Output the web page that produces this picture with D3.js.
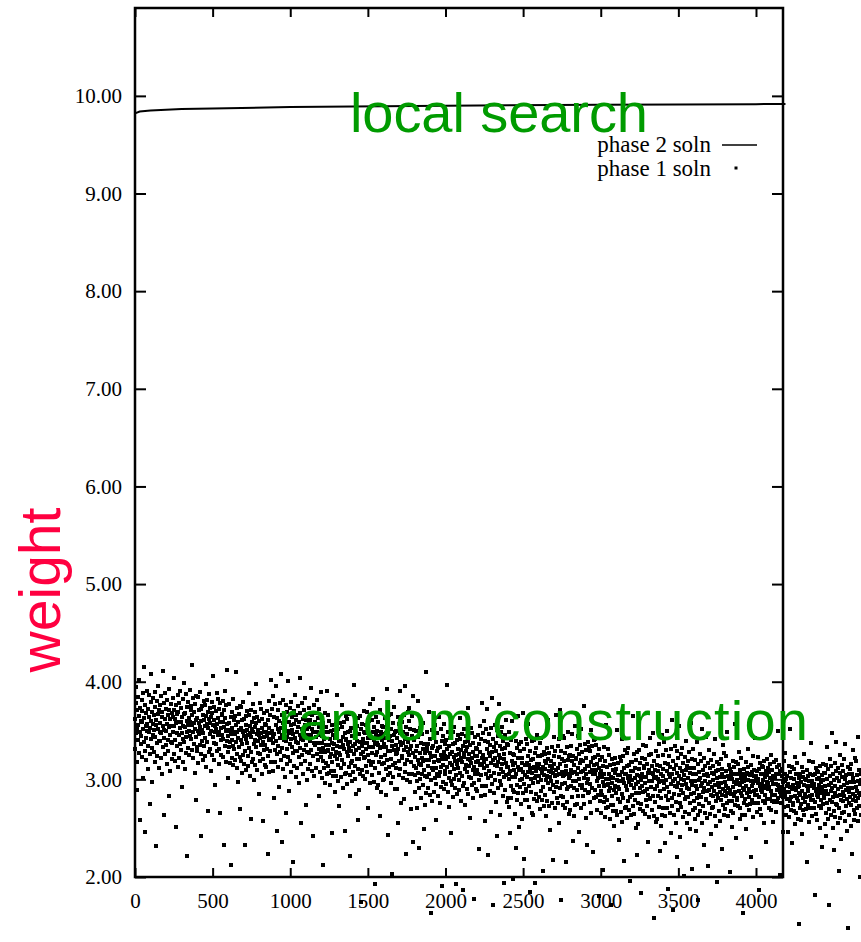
<!DOCTYPE html>
<html>
<head>
<meta charset="utf-8">
<script src="https://cdn.jsdelivr.net/npm/d3@7/dist/d3.min.js"></script>
<style>
  body { margin: 0; background: #fff; }
  svg { display: block; }
</style>
</head>
<body>
<div id="chart"></div>
<script>
// phase 1 (random construction) weights in hundredths,
// one value every 2 iterations, one array per 600 iterations
const sampleStep = 2;
const phase1From0 = [
  362,331,378,347,395,352,318,371,289,356,340,384,327,365,402,349,258,373,336,360,
  344,381,323,359,370,301,352,388,338,415,363,329,376,246,355,342,368,320,391,350,
  357,334,372,311,364,349,386,275,353,326,379,341,360,408,332,369,297,357,383,345,
  328,366,351,389,318,374,343,361,232,356,337,380,324,367,352,396,339,312,371,348,
  376,339,358,322,385,347,364,305,369,333,355,411,342,378,264,351,326,362,388,335,
  350,372,316,357,381,340,366,329,393,354,283,371,345,309,362,338,377,355,321,368,
  337,364,383,349,326,371,355,404,340,362,319,376,251,358,334,367,347,386,313,359,
  369,345,322,378,353,336,391,359,330,373,347,292,364,341,382,355,318,367,399,338,
  354,311,368,343,387,327,360,348,374,221,356,332,379,350,363,325,392,344,359,371,
  341,375,356,330,366,417,348,322,383,358,336,369,307,352,377,343,361,279,385,333,
  363,329,350,384,317,371,346,358,335,389,354,326,372,242,360,339,375,351,320,366,
  347,380,361,334,355,324,376,342,398,365,313,357,338,381,353,268,369,328,362,387,
  331,358,373,346,309,364,350,379,325,368,343,406,356,320,374,337,361,349,294,355,
  370,336,352,388,329,357,382,345,363,316,372,348,331,266,359,378,340,353,325,367,
  345,366,323,359,380,341,354,233,371,334,363,390,350,318,376,339,357,412,328,351
];
const phase1From600 = [
  344,301,358,333,377,317,350,338,364,212,346,322,369,340,353,315,382,334,349,361,
  331,365,346,320,356,410,338,312,373,348,326,359,297,342,367,333,351,270,375,323,
  353,319,340,374,307,361,336,348,325,379,344,316,362,233,350,329,365,341,310,356,
  337,370,351,324,345,314,366,332,388,355,303,347,328,371,343,259,359,318,352,377,
  321,348,363,336,299,354,340,369,315,358,333,398,346,310,364,327,351,339,285,345,
  360,326,342,378,319,347,372,335,353,306,362,338,321,257,349,368,330,343,315,357,
  335,356,313,349,370,331,344,224,361,324,353,380,340,308,366,329,347,402,318,341,
  350,318,372,337,385,343,309,364,281,346,330,377,318,356,396,339,247,363,326,352,
  334,371,313,349,360,292,342,378,328,408,353,320,366,236,345,332,358,311,381,340,
  347,324,362,302,354,339,376,266,343,316,369,331,350,401,323,359,288,347,373,336,
  319,356,341,379,308,364,333,351,215,346,327,370,314,357,342,386,329,302,361,338,
  366,329,348,312,375,337,354,296,359,323,345,404,332,368,255,341,316,352,378,325,
  340,362,306,347,371,330,356,319,383,344,274,361,335,299,352,328,367,345,311,358,
  327,354,373,339,316,361,345,394,330,352,309,366,242,348,324,357,337,376,303,349,
  359,335,312,368,343,326,381,349,320,363,337,283,354,331,372,345,308,357,389,328
];
const phase1From1200 = [
  323,344,301,337,358,319,332,212,349,312,341,368,328,296,354,317,335,391,306,329,
  348,314,330,366,307,335,360,323,341,294,350,326,309,245,337,356,318,331,303,345,
  309,336,351,324,287,342,328,357,303,346,321,386,334,298,352,315,339,327,273,333,
  325,358,339,312,333,302,354,320,376,343,291,335,316,359,331,247,347,306,340,365,
  341,307,328,362,295,349,324,336,313,367,332,304,350,221,338,317,353,329,298,344,
  319,353,334,308,344,397,326,300,361,336,314,347,285,330,355,321,339,258,363,311,
  332,289,346,321,365,305,338,326,352,174,334,310,357,328,341,303,370,322,337,349,
  347,323,300,356,331,314,369,337,308,351,325,271,342,319,360,333,296,345,377,316,
  315,342,361,327,304,349,333,382,318,340,297,354,193,336,312,345,325,364,291,337,
  328,350,294,335,359,318,344,307,371,332,262,349,323,287,340,316,355,333,299,346,
  354,317,336,300,363,325,342,284,347,311,333,393,320,356,243,329,304,340,366,313,
  307,344,329,367,296,352,321,339,203,334,315,358,302,345,330,374,317,290,349,326,
  335,312,350,290,342,327,364,255,331,304,357,319,338,390,311,347,276,335,361,324,
  322,359,301,337,348,280,330,366,316,396,341,308,354,224,333,320,346,299,369,328,
  338,306,360,325,373,331,297,352,270,334,318,365,306,344,385,327,236,351,314,340
];
const phase1From1800 = [
  341,304,323,287,350,312,329,271,334,298,320,380,307,343,230,316,291,327,353,300,
  315,337,281,322,346,305,331,294,358,319,249,336,310,274,327,303,410,320,286,333,
  302,329,348,314,291,336,320,369,305,327,284,341,163,323,299,332,312,351,278,324,
  334,310,287,343,318,301,356,324,295,338,312,258,329,306,347,320,283,332,364,303,
  319,276,333,308,352,292,325,313,339,191,321,297,344,315,328,290,357,309,324,336,
  306,340,321,295,331,397,313,287,348,323,301,334,272,317,342,308,326,245,350,298,
  328,294,315,349,282,336,311,323,300,354,319,291,337,193,325,304,340,316,285,331,
  312,345,326,299,320,289,341,307,363,330,278,322,303,346,318,187,334,293,327,352,
  296,323,338,311,274,329,315,344,290,333,308,373,321,285,339,302,326,314,260,320,
  335,301,317,353,294,322,347,310,328,281,337,313,296,177,324,343,305,318,290,332,
  310,331,288,324,345,306,319,229,336,299,328,355,315,283,341,304,322,378,293,316,
  325,293,347,312,360,318,284,339,257,321,305,352,293,331,372,314,223,338,301,327,
  309,346,288,324,335,267,317,353,303,383,328,295,341,171,320,307,333,286,356,315,
  322,299,337,277,329,314,351,242,318,291,344,306,325,377,298,334,263,322,348,311,
  294,331,316,354,283,339,308,326,194,321,302,345,289,332,317,361,304,277,336,313
];
const phase1From2400 = [
  313,281,335,300,348,306,272,327,245,309,293,340,281,319,360,302,198,326,289,315,
  310,287,325,265,317,302,339,230,306,279,332,294,313,365,286,322,251,310,336,299,
  329,292,311,275,338,300,317,259,322,286,308,368,295,331,218,304,279,315,341,288,
  290,317,336,302,279,324,308,357,293,315,272,329,185,311,287,320,300,339,266,312,
  307,264,321,296,340,280,313,301,327,194,309,285,332,303,316,278,345,297,312,324,
  316,282,303,337,270,324,299,311,288,342,307,279,325,206,313,292,328,304,273,319,
  284,311,326,299,262,317,303,332,278,321,296,361,309,273,327,290,314,302,248,308,
  298,319,276,312,333,294,307,217,324,287,316,343,303,271,329,292,310,366,281,304,
  297,334,276,312,323,255,305,341,291,371,316,283,329,176,308,295,321,274,344,303,
  282,319,304,342,271,327,296,314,215,309,290,333,277,320,305,349,292,265,324,301,
  303,325,269,310,334,293,319,282,346,307,237,324,298,262,315,291,355,308,274,321,
  322,298,275,331,306,289,344,312,283,326,300,246,317,294,335,308,271,320,352,291,
  294,328,309,283,319,375,301,275,336,311,289,322,260,305,330,296,314,233,338,286,
  300,333,314,287,308,277,329,295,351,318,266,310,291,334,306,226,322,281,315,340,
  323,289,305,341,282,310,335,298,316,269,325,301,284,181,312,331,293,306,278,320
];
const phase1From3000 = [
  288,309,266,302,323,284,297,207,314,277,306,333,293,261,319,282,300,356,271,294,
  313,279,295,331,272,300,325,288,306,259,315,291,274,171,302,321,283,296,268,310,
  274,301,316,289,252,307,293,322,268,311,286,351,299,263,317,280,304,292,238,298,
  290,323,304,277,298,267,319,285,341,308,256,300,281,324,296,216,312,271,305,330,
  306,272,293,327,260,314,289,301,278,332,297,269,315,196,303,282,318,294,263,309,
  284,318,299,273,309,365,291,265,326,301,279,312,250,295,320,286,304,223,328,276,
  297,254,311,286,330,270,303,291,317,184,299,275,322,293,306,268,335,287,302,314,
  312,288,265,321,296,279,334,302,273,316,290,236,307,284,325,298,261,310,342,281,
  280,307,326,292,269,314,298,347,283,305,262,319,158,301,277,310,290,329,256,302,
  293,315,259,300,324,283,309,272,336,297,227,314,288,252,305,281,345,298,264,311,
  303,271,325,290,338,296,262,317,235,299,283,330,271,309,350,292,188,316,279,305,
  287,324,266,302,313,245,295,331,281,361,306,273,319,166,298,285,311,264,334,293,
  300,277,315,255,307,292,329,220,296,269,322,284,303,355,276,312,241,300,326,289,
  272,309,294,332,261,317,286,304,201,299,280,323,267,310,295,339,282,255,314,291,
  319,282,301,265,328,290,307,249,312,276,298,358,285,321,208,294,269,305,331,278
];
const phase1From3600 = [
  286,312,259,298,271,320,293,247,305,281,338,290,264,316,176,299,275,308,284,326,
  301,268,293,319,282,352,296,255,310,287,273,233,304,291,322,266,298,314,280,343,
  279,306,288,260,317,295,211,303,276,330,289,265,312,297,244,284,320,271,307,292,
  314,283,299,272,326,288,305,262,341,294,278,309,252,301,285,318,195,296,281,310,
  292,268,316,302,287,257,321,279,296,311,229,306,284,335,290,274,302,263,327,288,
  270,297,283,324,293,309,276,348,286,262,303,291,315,278,300,205,289,311,268,304,
  308,285,251,300,278,319,292,266,313,297,283,357,274,306,287,240,318,295,279,299,
  281,316,296,273,305,288,328,259,294,310,271,301,286,322,264,297,283,306,163,291,
  298,276,311,289,263,302,280,318,293,249,307,286,274,313,299,331,269,290,305,282,
  275,304,287,315,298,220,293,308,279,296,324,261,303,288,310,276,298,342,284,301,
  303,289,267,309,284,323,296,276,300,187,311,282,293,317,270,305,289,263,314,295,
  287,313,299,278,306,291,255,319,284,302,276,309,293,236,297,321,280,304,290,312,
  296,271,308,292,280,316,301,269,325,288,299,278,310,284,303,256,295,318,277,302,
  278,301,284,320,295,267,306,289,313,277,350,294,281,305,291,315,202,287,309,283,
  309,292,276,303,288,311,246,297,282,319,290,272,306,298,284,327,287,264,300,293
];
const phase1From4200 = [
  303,280,246,295,273,314,287,261,308,292,278,352,269,301,282,235,313,290,274,294,
  276,311,291,268,300,283,323,254,289,305,266,296,281,317,259,292,278,301,152,286,
  293,271,306,284,258,297,275,313,288,244,302,281,269,308,294,326,264,285,300,277,
  270,299,282,310,293,215,288,303,274,291,319,256,298,283,305,271,293,337,279,296,
  298,284,262,304,279,318,291,271,295,182,306,277,288,312,265,300,284,258,309,290,
  282,308,294,273,301,286,250,314,279,297,271,304,288,231,292,316,275,299,285,307,
  281,307,254,293,266,315,288,242,300,276,333,285,259,311,171,294,270,303,279,321,
  296,263,288,314,277,347,291,250,305,282,268,228,299,286,317,261,293,309,275,338,
  274,301,283,255,312,290,206,298,271,325,284,260,307,292,239,279,315,266,302,287,
  309,278,294,267,321,283,300,257,336,289,273,304,247,296,280,313,148,291,276,305,
  287,263,311,297,282,252,316,274,291,306,224,301,279,330,285,269,297,258,322,283,
  265,292,278,319,288,304,271,343,281,257,298,286,310,273,295,200,284,306,263,299
];
const phase1Starts = [0, 600, 1200, 1800, 2400, 3000, 3600, 4200];
const phase1Blocks = [phase1From0, phase1From600, phase1From1200, phase1From1800,
                      phase1From2400, phase1From3000, phase1From3600, phase1From4200];

// phase 2 (local search) solution weight
const phase2Iter   = [0, 30, 100, 300, 500, 1000, 2000, 3000, 4000, 4190];
const phase2Weight = [9.82, 9.84, 9.85, 9.865, 9.87, 9.885, 9.90, 9.91, 9.915, 9.918];

const xTicks = [0, 500, 1000, 1500, 2000, 2500, 3000, 3500, 4000];
const yTicks = [2, 3, 4, 5, 6, 7, 8, 9, 10];
const legendLabels = ["phase 2 soln", "phase 1 soln"];

const width = 861, height = 942;
const plotLeft = 135, plotRight = 783, plotTop = 8, plotBottom = 877;

const svg = d3.select('#chart').append('svg')
  .attr('width', width)
  .attr('height', height);

const x = d3.scaleLinear().domain([0, 4174]).range([plotLeft, plotRight]);
const y = d3.scaleLinear().domain([2, 10.9]).range([plotBottom, plotTop]);

const serif = '"Liberation Serif", "DejaVu Serif", serif';
const sans = '"Liberation Sans", Arial, sans-serif';

// axes: ticks point inward on all four sides
function styleAxis(g, showText) {
  g.select('.domain').remove();
  g.selectAll('.tick line').attr('stroke', '#000').attr('stroke-width', 2);
  g.selectAll('.tick text')
    .attr('font-family', serif)
    .attr('font-size', 21)
    .attr('fill', '#000')
    .style('display', showText ? null : 'none');
}

svg.append('g')
  .attr('transform', `translate(0,${plotBottom})`)
  .call(d3.axisBottom(x).tickValues(xTicks).tickSize(-9).tickPadding(16).tickFormat(d3.format('d')))
  .call(g => styleAxis(g, true));

svg.append('g')
  .attr('transform', `translate(0,${plotTop})`)
  .call(d3.axisTop(x).tickValues(xTicks).tickSize(-9))
  .call(g => styleAxis(g, false));

svg.append('g')
  .attr('transform', `translate(${plotLeft},0)`)
  .call(d3.axisLeft(y).tickValues(yTicks).tickSize(-11).tickPadding(13).tickFormat(d3.format('.2f')))
  .call(g => styleAxis(g, true));

svg.append('g')
  .attr('transform', `translate(${plotRight},0)`)
  .call(d3.axisRight(y).tickValues(yTicks).tickSize(-11))
  .call(g => styleAxis(g, false));

// frame
svg.append('rect')
  .attr('x', plotLeft).attr('y', plotTop)
  .attr('width', plotRight - plotLeft).attr('height', plotBottom - plotTop)
  .attr('fill', 'none')
  .attr('stroke', '#000')
  .attr('stroke-width', 2.5);

// phase 1 points (not clipped, they spill out of the frame)
const phase1 = [];
phase1Blocks.forEach((block, b) => {
  block.forEach((w, i) => phase1.push({ iter: phase1Starts[b] + i * sampleStep, w: w / 100 }));
});

const dot = 4;
svg.append('g')
  .attr('shape-rendering', 'crispEdges')
  .selectAll('rect')
  .data(phase1)
  .join('rect')
  .attr('x', d => Math.round(x(d.iter) - dot / 2))
  .attr('y', d => Math.round(y(d.w) - dot / 2))
  .attr('width', dot)
  .attr('height', dot)
  .attr('fill', '#000');

// phase 2 line
const line = d3.line()
  .x(d => x(d[0]))
  .y(d => y(d[1]));

svg.append('path')
  .datum(d3.zip(phase2Iter, phase2Weight))
  .attr('fill', 'none')
  .attr('stroke', '#000')
  .attr('stroke-width', 2)
  .attr('d', line);

// legend
const legend = svg.append('g').attr('font-family', serif).attr('font-size', 23).attr('fill', '#000');
legend.selectAll('text')
  .data(legendLabels)
  .join('text')
  .attr('x', 711)
  .attr('y', (d, i) => 152 + i * 24)
  .attr('text-anchor', 'end')
  .text(d => d);
legend.append('line')
  .attr('x1', 722).attr('x2', 757)
  .attr('y1', 145).attr('y2', 145)
  .attr('stroke', '#000').attr('stroke-width', 1.5);
legend.append('rect')
  .attr('x', 734.5).attr('y', 166.5)
  .attr('width', 3).attr('height', 3);

// annotations
svg.append('text')
  .attr('x', 350).attr('y', 132)
  .attr('font-family', sans).attr('font-size', 56)
  .attr('textLength', 298)
  .attr('fill', '#009b00')
  .text('local search');

svg.append('text')
  .attr('x', 278).attr('y', 740)
  .attr('font-family', sans).attr('font-size', 56)
  .attr('textLength', 530)
  .attr('fill', '#009b00')
  .text('random construction');

svg.append('text')
  .attr('transform', 'translate(60,590) rotate(-90)')
  .attr('text-anchor', 'middle')
  .attr('font-family', sans).attr('font-size', 57)
  .attr('fill', '#ff0040')
  .text('weight');
</script>
</body>
</html>
